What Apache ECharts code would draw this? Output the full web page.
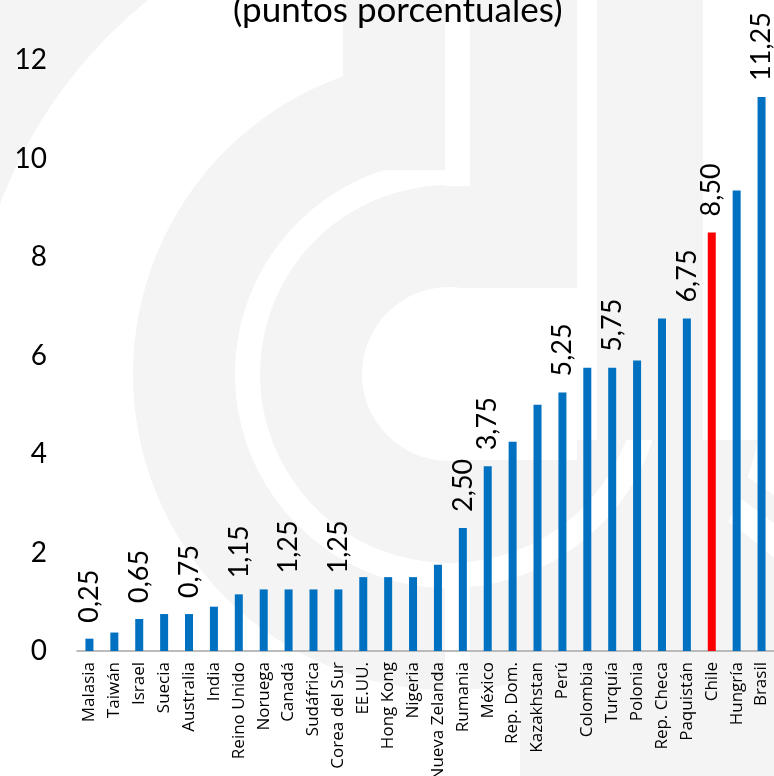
<!DOCTYPE html>
<html>
<head>
<meta charset="utf-8">
<script src="https://cdn.jsdelivr.net/npm/echarts@6/dist/echarts.min.js"></script>
<style>
  html, body { margin: 0; padding: 0; background: #fff; }
  #chart { width: 774px; height: 776px; }
</style>
</head>
<body>
<div id="chart"></div>
<script>
var categories = ['Malasia', 'Taiwán', 'Israel', 'Suecia', 'Australia', 'India', 'Reino Unido',
    'Noruega', 'Canadá', 'Sudáfrica', 'Corea del Sur', 'EE.UU.', 'Hong Kong', 'Nigeria',
    'Nueva Zelanda', 'Rumania', 'México', 'Rep. Dom.', 'Kazakhstan', 'Perú', 'Colombia',
    'Turquía', 'Polonia', 'Rep. Checa', 'Paquistán', 'Chile', 'Hungría', 'Brasil'];
var values = [0.25, 0.375, 0.65, 0.75, 0.75, 0.9, 1.15,
    1.25, 1.25, 1.25, 1.25, 1.5, 1.5, 1.5,
    1.75, 2.5, 3.75, 4.25, 5.0, 5.25, 5.75,
    5.75, 5.9, 6.75, 6.75, 8.5, 9.35, 11.25];
// bars that carry a value label in the original
var labeled = ['Malasia', 'Israel', 'Australia', 'Reino Unido', 'Canadá', 'Corea del Sur',
    'Rumania', 'México', 'Perú', 'Turquía', 'Paquistán', 'Chile', 'Brasil'];
var highlight = 'Chile';
var yTicks = [0, 2, 4, 6, 8, 10, 12];

var font = 'Lato';
var blue = '#0070C0';
var red = '#FF0000';
var wm = '#f4f4f4';

var myChart = echarts.init(document.getElementById('chart'));

var seriesData = values.map(function (v, i) {
    var c = categories[i];
    return {
        value: v,
        itemStyle: { color: c === highlight ? red : blue },
        label: { show: labeled.indexOf(c) >= 0 }
    };
});

// faint logo watermark behind the chart
var cx = 449, cy = 374;
var watermark = [
    // lower right arcs
    { type: 'sector', shape: { cx: 520, cy: 830, r0: 0, r: 420, startAngle: -Math.PI / 2, endAngle: 0 }, style: { fill: wm } },
    { type: 'sector', shape: { cx: 520, cy: 830, r0: 372, r: 398, startAngle: -Math.PI / 2, endAngle: 0 }, style: { fill: '#fff' } },
    // main ring
    { type: 'circle', shape: { cx: cx, cy: cy, r: 316 }, style: { fill: wm } },
    { type: 'ring', shape: { cx: cx, cy: cy, r: 214, r0: 189 }, style: { fill: '#fff' } },
    { type: 'circle', shape: { cx: cx, cy: cy, r: 87 }, style: { fill: '#fff' } },
    { type: 'rect', shape: { x: cx, y: 288, width: 128, height: 172 }, style: { fill: '#fff' } },
    // vertical strokes
    { type: 'rect', shape: { x: 343, y: 0, width: 102, height: 170 }, style: { fill: wm } },
    { type: 'rect', shape: { x: 445, y: 0, width: 25, height: 186 }, style: { fill: '#fff' } },
    { type: 'rect', shape: { x: 445, y: 586, width: 25, height: 200 }, style: { fill: '#fff' } },
    { type: 'rect', shape: { x: 470, y: 0, width: 107, height: 288 }, style: { fill: wm } },
    { type: 'rect', shape: { x: 577, y: 0, width: 20, height: 440 }, style: { fill: '#fff' } },
    { type: 'rect', shape: { x: 597, y: 0, width: 106, height: 440 }, style: { fill: wm } },
    { type: 'rect', shape: { x: 703, y: 0, width: 80, height: 440 }, style: { fill: '#fff' } },
    // top left corner
    { type: 'sector', shape: { cx: cx, cy: cy, r0: 480, r: 900, startAngle: Math.PI, endAngle: Math.PI * 1.5 },
        style: { fill: wm } }
].map(function (el) {
    el.z = -10;
    el.silent = true;
    return el;
});

var option = {
    backgroundColor: '#fff',
    animation: false,
    textStyle: { fontFamily: font },
    title: {
        text: '(puntos porcentuales)',
        left: 228,
        top: -12,
        textStyle: { fontFamily: font, fontSize: 35, fontWeight: 'normal', color: '#000' }
    },
    graphic: watermark,
    grid: {
        left: 77,
        right: 0,
        top: 60,
        bottom: 125,
        outerBoundsMode: 'none'
    },
    xAxis: {
        type: 'category',
        data: categories,
        axisLine: { lineStyle: { color: '#a6a6a6', width: 1.5 } },
        axisTick: { show: false },
        axisLabel: {
            interval: 0,
            rotate: 90,
            margin: 11,
            fontFamily: 'Open Sans',
            fontSize: 17,
            color: '#000'
        }
    },
    yAxis: {
        type: 'value',
        min: yTicks[0],
        max: yTicks[yTicks.length - 1],
        interval: 2,
        axisLine: { show: false },
        axisTick: { show: false },
        splitLine: { show: false },
        axisLabel: {
            margin: 30,
            fontFamily: font,
            fontSize: 28,
            color: '#000'
        }
    },
    series: [{
        type: 'bar',
        data: seriesData,
        barWidth: 8,
        label: {
            position: 'top',
            rotate: 90,
            align: 'left',
            verticalAlign: 'middle',
            distance: 16,
            fontFamily: font,
            fontSize: 27,
            color: '#000',
            formatter: function (p) {
                return p.value.toFixed(2).replace('.', ',');
            }
        }
    }]
};
myChart.setOption(option);
</script>
</body>
</html>
